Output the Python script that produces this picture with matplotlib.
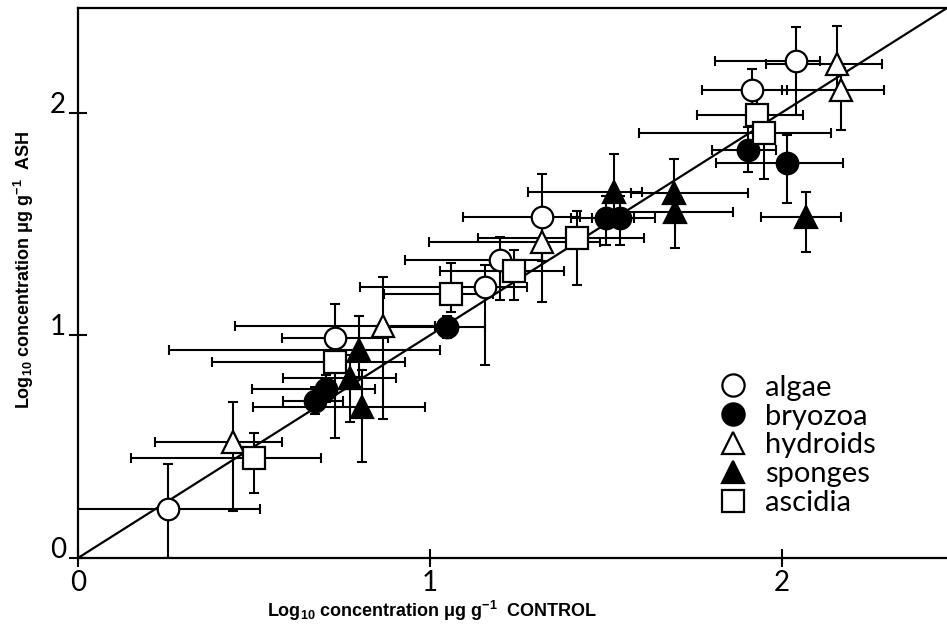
import matplotlib
matplotlib.use('Agg')
import matplotlib.pyplot as plt
from matplotlib.lines import Line2D

plt.rcParams['font.family'] = ['Liberation Sans', 'DejaVu Sans']
plt.rcParams['mathtext.default'] = 'regular'

# log10 concentrations, control (x) vs ash (y), with lower/upper errors
algae_x = [0.256, 0.73, 1.318, 1.199, 1.156, 1.915, 2.04]
algae_y = [0.22, 0.99, 1.533, 1.34, 1.218, 2.10, 2.234]
algae_xlo = [0.26, 0.15, 0.225, 0.27, 0.355, 0.14, 0.23]
algae_xhi = [0.26, 0.15, 0.11, 0.12, 0.12, 0.10, 0.07]
algae_ylo = [0.22, 0.15, 0.20, 0.18, 0.35, 0.12, 0.245]
algae_yhi = [0.20, 0.15, 0.19, 0.10, 0.10, 0.095, 0.15]

bryozoa_x = [0.673, 0.705, 1.048, 1.50, 1.54, 1.903, 2.014]
bryozoa_y = [0.706, 0.76, 1.038, 1.525, 1.525, 1.834, 1.775]
bryozoa_xlo = [0.09, 0.21, 0.18, 0.10, 0.08, 0.10, 0.20]
bryozoa_xhi = [0.08, 0.14, 0.11, 0.08, 0.10, 0.08, 0.16]
bryozoa_ylo = [0.06, 0.06, 0.05, 0.12, 0.12, 0.10, 0.18]
bryozoa_yhi = [0.06, 0.06, 0.05, 0.10, 0.10, 0.10, 0.125]

hydroids_x = [0.44, 0.866, 1.318, 2.156, 2.17]
hydroids_y = [0.52, 1.043, 1.42, 2.22, 2.10]
hydroids_xlo = [0.22, 0.42, 0.32, 0.20, 0.17]
hydroids_xhi = [0.14, 0.15, 0.165, 0.13, 0.12]
hydroids_ylo = [0.31, 0.42, 0.27, 0.12, 0.18]
hydroids_yhi = [0.18, 0.22, 0.12, 0.17, 0.10]

sponges_x = [0.80, 0.773, 0.807, 1.523, 1.693, 1.696, 2.07]
sponges_y = [0.935, 0.81, 0.68, 1.645, 1.64, 1.555, 1.533]
sponges_xlo = [0.54, 0.19, 0.31, 0.244, 0.12, 0.15, 0.128]
sponges_xhi = [0.23, 0.13, 0.18, 0.08, 0.21, 0.165, 0.10]
sponges_ylo = [0.12, 0.20, 0.25, 0.10, 0.08, 0.165, 0.16]
sponges_yhi = [0.15, 0.10, 0.165, 0.17, 0.15, 0.08, 0.11]

ascidia_x = [0.50, 0.73, 1.06, 1.418, 1.24, 1.93, 1.95]
ascidia_y = [0.45, 0.88, 1.187, 1.438, 1.29, 1.99, 1.91]
ascidia_xlo = [0.35, 0.35, 0.19, 0.28, 0.21, 0.17, 0.355]
ascidia_xhi = [0.19, 0.20, 0.12, 0.19, 0.14, 0.13, 0.19]
ascidia_ylo = [0.16, 0.34, 0.08, 0.21, 0.13, 0.10, 0.21]
ascidia_yhi = [0.11, 0.15, 0.14, 0.12, 0.094, 0.10, 0.10]

groups = [
    ('algae', 'o', 'white', algae_x, algae_y, algae_xlo, algae_xhi, algae_ylo, algae_yhi),
    ('bryozoa', 'o', 'black', bryozoa_x, bryozoa_y, bryozoa_xlo, bryozoa_xhi, bryozoa_ylo, bryozoa_yhi),
    ('hydroids', '^', 'white', hydroids_x, hydroids_y, hydroids_xlo, hydroids_xhi, hydroids_ylo, hydroids_yhi),
    ('sponges', '^', 'black', sponges_x, sponges_y, sponges_xlo, sponges_xhi, sponges_ylo, sponges_yhi),
    ('ascidia', 's', 'white', ascidia_x, ascidia_y, ascidia_xlo, ascidia_xhi, ascidia_ylo, ascidia_yhi),
]

fig = plt.figure(figsize=(9.47, 6.29), dpi=100)
ax = fig.add_axes([78 / 947, 71 / 629, 869 / 947, 550 / 629])

lim = 2.47
ax.plot([0, lim], [0, lim], color='black', lw=1.6, zorder=2)

# error bars first, markers on top
for name, mk, fc, x, y, xlo, xhi, ylo, yhi in groups:
    ax.errorbar(x, y, xerr=[xlo, xhi], yerr=[ylo, yhi], fmt='none',
                ecolor='black', elinewidth=1.5, capsize=3.5, capthick=1.5, zorder=1)
for name, mk, fc, x, y, xlo, xhi, ylo, yhi in groups:
    ax.plot(x, y, linestyle='none', marker=mk, markersize=15.5,
            markerfacecolor=fc, markeredgecolor='black', markeredgewidth=1.6, zorder=3)

ax.set_xlim(0, lim)
ax.set_ylim(0, lim)
ax.set_xticks([0, 1, 2])
ax.set_yticks([0, 1, 2])
ax.tick_params(direction='inout', length=13, width=1.5, labelsize=20, pad=2)
for lab in ax.get_xticklabels() + ax.get_yticklabels():
    lab.set_family(['Lato', 'DejaVu Sans'])
for lab in ax.get_yticklabels():
    lab.set_va('baseline')

ax.spines['right'].set_visible(False)
for s in ['left', 'bottom', 'top']:
    ax.spines[s].set_linewidth(1.6)

ax.set_xlabel(r'Log$_{10}$ concentration $\mu$g g$^{-1}$  CONTROL',
              fontsize=13, fontweight='bold')
ax.set_ylabel(r'Log$_{10}$ concentration $\mu$g g$^{-1}$  ASH',
              fontsize=13, fontweight='bold')
ax.xaxis.set_label_coords(0.407, -0.075)
ax.yaxis.set_label_coords(-0.048, 0.524)

handles = [Line2D([], [], linestyle='none', marker=g[1], markersize=16,
                  markerfacecolor=g[2], markeredgecolor='black', markeredgewidth=1.6)
           for g in groups]
ax.legend(handles, [g[0] for g in groups], loc='upper left',
          bbox_to_anchor=(0.72, 0.36), frameon=False, handlelength=1.0,
          handletextpad=0.6, labelspacing=0.1, borderpad=0,
          prop={'family': ['Lato', 'DejaVu Sans'], 'size': 21})

fig.savefig('out.png', dpi=100)
